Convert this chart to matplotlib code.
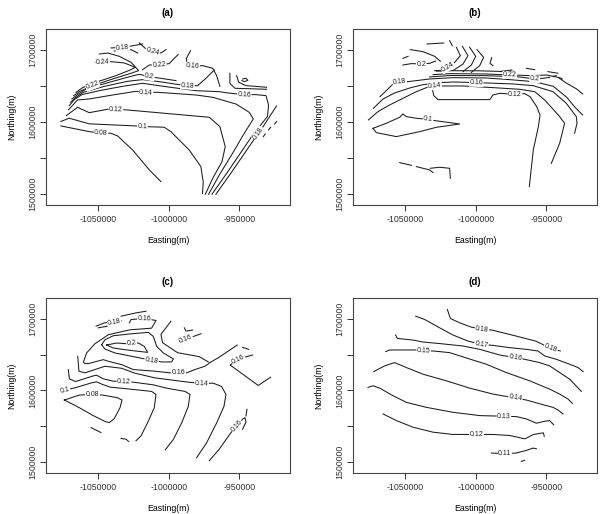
import numpy as np
import matplotlib
matplotlib.use("Agg")
from matplotlib import pyplot as plt

plt.rcParams['font.family'] = ['Liberation Sans', 'DejaVu Sans']

# contour pieces: easting / northing in km

# ---- panel (a)
a08_e = [-1076.4, -1056.3, -1048.0, -1040.9, -1036.2, -1025.6, -1013.7, -1005.5]
a08_n = [1594.6, 1586.7, 1584.4, 1584.4, 1580.7, 1561.3, 1533.6, 1517.4]
a10_e = [-1076.5, -1070.6, -1064.7, -1056.4, -1024.5, -1018.6, -1003.2, -998.5, -985.5, -977.2, -975.5, -976.0]
a10_n = [1600.7, 1605.3, 1602.1, 1597.5, 1594.7, 1593.8, 1592.8, 1586.8, 1561.4, 1538.3, 1517.0, 1501.0]
a12_e = [-1072.5, -1064.6, -1056.3, -1043.3, -1037.4, -1029.1, -971.2, -963.7, -959.9, -962.2, -968.8, -974.0]
a12_n = [1609.0, 1620.4, 1613.0, 1617.7, 1617.7, 1616.7, 1606.6, 1593.6, 1565.9, 1545.1, 1522.0, 1499.9]
a14_e = [-1071.0, -1064.6, -1056.3, -1039.7, -1023.2, -1016.1, -1007.8, -980.7, -968.8, -952.3, -942.9,
         -940.0, -946.4, -954.7, -964.1, -971.7]
a14_n = [1617.0, 1630.6, 1632.0, 1637.5, 1642.6, 1641.2, 1641.2, 1637.5, 1634.3, 1625.0, 1613.5,
         1604.3, 1584.4, 1556.7, 1526.6, 1499.9]
a16_e = [-1070.5, -1066.9, -1061.5, -1049.2, -1032.7, -1018.5, -1001.9, -980.7, -964.1, -958.2, -946.4,
         -938.1, -931.0, -929.2, -929.9, -941.2, -949.2, -959.2, -969.3]
a16_n = [1622.7, 1631.1, 1638.0, 1643.5, 1649.5, 1653.7, 1649.0, 1643.5, 1642.1, 1640.3, 1638.0,
         1638.0, 1636.6, 1623.7, 1608.0, 1579.8, 1556.7, 1528.0, 1499.9]
a16t_e = [-984.5, -987.5, -987.0, -983.0, -975.9, -968.8, -966.0, -963.7]
a16t_n = [1699.0, 1688.0, 1680.0, 1677.3, 1678.2, 1674.5, 1664.3, 1649.5]
a18_e = [-1069.5, -1065.7, -1060.5, -1045.6, -1029.1, -1018.5, -1006.7, -996.0, -986.6, -979.5, -973.6, -967.7]
a18_n = [1627.4, 1634.3, 1641.2, 1649.5, 1656.5, 1658.8, 1656.0, 1652.8, 1650.5, 1650.5, 1660.6, 1672.2]
a20_e = [-1068.6, -1064.3, -1058.6, -1042.1, -1026.7, -1020.8, -1013.7, -1005.5, -994.8]
a20_n = [1632.0, 1638.4, 1645.8, 1655.1, 1663.4, 1666.2, 1662.9, 1660.6, 1657.4]
a22_e = [-1067.4, -1062.9, -1053.9, -1039.7, -1026.7, -1021.3, -1026.7, -1035.0, -1043.3, -1049.2]
a22_n = [1636.6, 1642.6, 1650.5, 1659.7, 1667.6, 1671.3, 1682.8, 1691.1, 1695.7, 1694.3]
a22b_e = [-1018.5, -1013.7, -1006.7, -999.6, -996.5, -993.3]
a22b_n = [1672.6, 1679.1, 1679.1, 1681.0, 1687.5, 1693.5]
a24_e = [-1065.7, -1061.0, -1051.6, -1037.4, -1026.7, -1023.7, -1031.5, -1040.9, -1046.8, -1052.0]
a24_n = [1641.2, 1647.7, 1655.1, 1664.3, 1672.6, 1675.9, 1681.9, 1683.7, 1682.8, 1682.8]
a18t_e = [-1040.9, -1032.7, -1025.1, -1018.5]
a18t_n = [1702.7, 1703.6, 1705.9, 1708.2]
a18u_e = [-1038.6, -1026.7, -1022.0]
a18u_n = [1698.5, 1700.4, 1695.7]
a24t_e = [-1020.8, -1016.6, -1011.4, -1005.5, -1001.9]
a24t_n = [1709.6, 1702.2, 1697.6, 1695.7, 1700.4]
a16s1_e = [-956.6, -956.6, -953.0, -930.6]
a16s1_n = [1667.6, 1653.7, 1646.8, 1645.4]
a16s2_e = [-951.8, -950.4, -945.2, -930.6]
a16s2_n = [1664.3, 1655.1, 1650.5, 1648.2]
a_swirl_e = [-947.6, -945.2, -943.8, -946.2, -948.1]
a_swirl_n = [1659.7, 1660.6, 1657.9, 1656.0, 1657.4]
a18r_e = [-923.5, -933.4, -936.5, -946.2, -956.3, -966.5]
a18r_n = [1622.3, 1592.7, 1584.4, 1556.7, 1528.0, 1499.9]
a18d1_e = [-932.9, -931.5]
a18d1_n = [1579.8, 1583.5]
a18d2_e = [-929.2, -927.7]
a18d2_n = [1589.0, 1592.7]
a18d3_e = [-924.9, -923.5]
a18d3_n = [1597.3, 1600.6]

# ---- panel (b)
b10_e = [-1072.8, -1070.5, -1056.3, -1039.7, -1027.9, -1011.4, -1018.5, -1029.1, -1033.8, -1042.1,
         -1049.2, -1051.6, -1053.9, -1063.4, -1072.8]
b10_n = [1591.3, 1585.3, 1579.8, 1586.7, 1592.7, 1597.3, 1599.2, 1602.0, 1603.8, 1605.2,
         1607.5, 1611.2, 1606.6, 1598.3, 1591.3]
b_p1_e = [-1053.9, -1045.6]
b_p1_n = [1543.7, 1540.0]
b_p2_e = [-1042.1, -1032.7, -1030.3]
b_p2_n = [1538.2, 1533.6, 1529.9]
b_p3_e = [-1032.2, -1025.6, -1018.5, -1018.0]
b_p3_n = [1535.9, 1537.3, 1535.9, 1522.0]
b12_e = [-1030.8, -1029.8, -1026.7, -990.1, -987.8, -983.0, -972.2, -965.3, -961.5, -956.8, -954.4,
         -955.6, -959.2, -962.0]
b12_n = [1646.8, 1636.6, 1631.1, 1631.1, 1637.5, 1639.8, 1638.4, 1639.4, 1635.2, 1621.4, 1609.8,
         1593.6, 1561.3, 1510.5]
b14_e = [-1076.1, -1069.3, -1061.0, -1051.6, -1042.1, -1035.0, -1029.1, -1023.2, -1009.0, -987.8,
         -968.8, -958.2, -951.1, -940.5, -937.0, -940.5, -946.4]
b14_n = [1602.9, 1614.4, 1623.7, 1632.9, 1642.1, 1647.7, 1650.0, 1650.0, 1650.0, 1647.7,
         1645.4, 1642.1, 1630.6, 1607.5, 1598.3, 1570.5, 1542.8]
b16_e = [-1072.6, -1065.7, -1057.5, -1046.8, -1037.4, -1025.6, -1016.1, -1006.7, -999.6, -992.5,
         -973.6, -959.4, -945.2, -935.8, -928.7, -928.2, -929.9]
b16_n = [1619.0, 1632.0, 1640.3, 1647.2, 1651.8, 1654.6, 1655.5, 1655.1, 1654.2, 1654.2,
         1652.8, 1650.5, 1642.1, 1626.0, 1607.5, 1598.3, 1584.4]
b18_e = [-1067.9, -1063.4, -1059.8, -1057.5, -1053.9, -1048.0, -1032.7, -1016.1, -992.5, -975.9,
         -964.1, -954.7, -945.0, -935.5, -929.6, -924.2]
b18_n = [1635.2, 1643.5, 1650.5, 1654.2, 1655.1, 1656.0, 1659.7, 1661.5, 1661.1, 1658.8,
         1656.9, 1654.2, 1649.5, 1634.3, 1620.4, 1609.8]
b20_e = [-1032.7, -1018.5, -992.5, -968.8, -958.2, -952.3, -947.6]
b20_n = [1662.5, 1664.5, 1664.3, 1662.5, 1659.7, 1660.6, 1662.0]
b22_e = [-1030.3, -1018.5, -992.5, -975.9, -967.7, -959.4, -950.0, -941.7, -935.5, -928.4, -924.2]
b22_n = [1665.7, 1667.1, 1666.6, 1665.2, 1664.8, 1664.3, 1665.2, 1662.0, 1653.7, 1645.8, 1638.9]
b24s_e = [-1027.9, -1016.1, -997.2, -983.0, -973.6]
b24s_n = [1670.5, 1671.2, 1671.0, 1670.2, 1670.5]
b24_e = [-1029.1, -1024.4, -1019.7, -1014.9, -1010.9, -1013.7]
b24_n = [1671.3, 1671.7, 1675.9, 1682.8, 1692.0, 1703.6]
b_c2_e = [-1016.1, -1009.0, -1005.5, -1009.5]
b_c2_n = [1671.3, 1680.5, 1692.0, 1705.0]
b_c3_e = [-1009.0, -1003.1, -1000.0, -1004.3]
b_c3_n = [1669.9, 1679.1, 1691.1, 1703.6]
b_c4_e = [-1003.1, -997.2, -994.4, -999.1]
b_c4_n = [1668.9, 1678.2, 1689.7, 1700.4]
b_c5_e = [-988.7, -989.9, -987.8]
b_c5_n = [1689.3, 1681.4, 1678.2]
b_c6_e = [-982.8, -974.5]
b_c6_n = [1669.9, 1672.2]
b_e1_e = [-964.1, -958.2]
b_e1_n = [1674.5, 1672.6]
b_e2_e = [-948.8, -941.7]
b_e2_n = [1669.9, 1667.6]
b_l1_e = [-1051.6, -1048.0]
b_l1_n = [1688.3, 1691.1]
b20a_e = [-1051.6, -1045.6, -1038.6, -1032.7, -1028.4]
b20a_n = [1679.1, 1681.0, 1680.5, 1681.4, 1684.6]
b_l3_e = [-1046.4, -1037.4, -1029.1, -1025.1]
b_l3_n = [1700.4, 1697.6, 1691.1, 1684.2]
b_l4_e = [-1034.5, -1022.7]
b_l4_n = [1708.2, 1709.6]
b_l5_e = [-1018.5, -1016.6]
b_l5_n = [1712.8, 1705.9]
b_d1_e = [-945.2, -942.9]
b_d1_n = [1663.4, 1664.3]
b_d2_e = [-940.5, -938.6]
b_d2_n = [1661.5, 1659.7]

# ---- panel (c)
c08_e = [-1074.0, -1063.4, -1053.9, -1046.8, -1036.2, -1033.1, -1034.5, -1038.6, -1042.1, -1044.9,
         -1053.9, -1064.6, -1074.0]
c08_n = [1586.7, 1593.6, 1594.5, 1593.6, 1589.9, 1586.7, 1576.0, 1560.8, 1555.2, 1556.6,
         1565.4, 1577.4, 1586.7]
c10_e = [-1075.9, -1073.5, -1066.4, -1054.6, -1051.1, -1047.5, -1041.6, -1025.1, -1012.1, -1009.0,
         -1010.2, -1014.9, -1019.6, -1023.2]
c10_n = [1599.2, 1600.5, 1603.8, 1610.7, 1612.1, 1608.9, 1604.7, 1601.5, 1598.7, 1594.5,
         1576.1, 1555.3, 1536.8, 1529.9]
c12_e = [-1071.2, -1070.4, -1066.0, -1053.4, -1051.1, -1046.3, -1039.3, -1031.7, -1025.1, -1010.9,
         -1001.5, -988.4, -984.9, -986.1, -990.8, -996.7, -1002.4]
c12_n = [1629.2, 1616.2, 1612.5, 1620.4, 1621.3, 1616.2, 1613.0, 1612.5, 1611.6, 1607.9,
         1603.3, 1598.7, 1594.5, 1577.9, 1554.8, 1531.7, 1517.4]
c14_e = [-1064.5, -1063.6, -1059.3, -1052.3, -1045.2, -1033.4, -1023.9, -1009.7, -986.1, -976.6,
         -968.4, -962.5, -959.4, -960.8, -966.0, -973.1, -980.2]
c14_n = [1647.7, 1626.9, 1624.6, 1629.2, 1633.8, 1631.0, 1624.1, 1617.6, 1611.6, 1609.8,
         1610.2, 1605.6, 1594.5, 1577.9, 1554.8, 1527.1, 1506.3]
c16_e = [-1027.9, -1026.7, -1017.3, -1009.0, -1012.1, -1027.4, -1042.8, -1052.3, -1058.2, -1060.5,
         -1059.3, -1057.0, -1046.3, -1042.8, -1033.4, -1025.1, -1009.7, -999.1, -993.2, -987.3,
         -981.4, -974.3, -970.7, -963.6, -951.4]
c16_n = [1694.3, 1698.9, 1700.5, 1697.6, 1686.9, 1684.6, 1677.7, 1665.2, 1652.3, 1639.3,
         1637.5, 1637.5, 1643.0, 1640.7, 1636.1, 1629.2, 1626.9, 1624.6, 1625.5, 1624.6,
         1629.2, 1633.8, 1638.9, 1647.2, 1663.4]
c16b_e = [-998.4, -1005.5, -1004.3, -993.7, -978.3, -971.9]
c16b_n = [1696.6, 1678.2, 1666.6, 1652.7, 1647.2, 1639.8]
c16c_e = [-992.0, -987.7, -981.8, -977.1]
c16c_n = [1668.0, 1671.2, 1675.8, 1679.1]
c16d_e = [-988.9, -987.7, -983.0]
c16d_n = [1687.4, 1682.8, 1684.2]
c16e_e = [-927.7, -936.5, -956.5, -950.6, -944.7, -940.5]
c16e_n = [1618.6, 1607.0, 1635.6, 1643.0, 1647.2, 1649.5]
c16f_e = [-947.6, -943.3]
c16f_n = [1660.1, 1657.4]
c16g_e = [-971.2, -964.1, -955.8, -951.8, -947.6, -945.9, -945.2, -947.6]
c16g_n = [1502.1, 1518.3, 1541.4, 1550.6, 1559.9, 1562.2, 1556.2, 1546.0]
c16h_e = [-944.5, -945.2]
c16h_n = [1573.7, 1564.5]
c18_e = [-1047.5, -1045.2, -1039.3, -1026.3, -1014.4, -1010.9, -1008.5, -1003.8, -996.7, -997.9,
         -1005.0, -1012.1, -1018.0, -1028.6, -1038.1, -1045.2, -1047.5]
c18_n = [1663.8, 1670.8, 1676.3, 1679.1, 1681.0, 1675.4, 1661.5, 1652.3, 1644.0, 1639.8,
         1639.8, 1642.1, 1644.4, 1648.6, 1652.3, 1657.8, 1663.8]
c20_e = [-1044.0, -1036.9, -1029.8, -1026.3, -1021.5, -1017.3, -1014.9, -1021.5, -1031.0, -1039.2, -1044.0]
c20_n = [1663.4, 1666.2, 1665.2, 1665.8, 1666.2, 1661.5, 1653.2, 1654.6, 1656.9, 1659.2, 1663.4]
c18t_e = [-1051.5, -1045.6, -1038.6, -1036.2, -1033.4]
c18t_n = [1689.7, 1694.3, 1695.7, 1697.6, 1697.1]
c18u_e = [-1049.9, -1039.3]
c18u_n = [1687.4, 1691.1]
c_t1_e = [-1033.8, -1023.2, -1016.1]
c_t1_n = [1703.6, 1708.2, 1710.5]
c_p1_e = [-1055.1, -1048.0]
c_p1_n = [1548.3, 1541.4]
c_p2_e = [-1033.8, -1030.3, -1028.4]
c_p2_n = [1533.1, 1532.2, 1528.9]

# ---- panel (d)
d18_e = [-1020.1, -1018.0, -1011.4, -1003.1, -995.6, -988.5, -976.0, -964.1, -957.5, -946.9, -940.0]
d18_n = [1712.8, 1700.4, 1694.4, 1688.3, 1685.6, 1684.2, 1678.2, 1672.2, 1668.9, 1658.8, 1655.1]
d17_e = [-1042.6, -1036.2, -1025.6, -1016.1, -1005.5, -996.0, -987.8, -976.0, -964.1, -955.9, -951.1,
         -942.9, -933.4, -927.5, -923.9]
d17_n = [1703.6, 1699.0, 1687.4, 1677.3, 1668.9, 1664.3, 1662.9, 1659.7, 1657.4, 1655.1, 1648.2,
         1643.5, 1636.6, 1632.0, 1626.4]
d16_e = [-1056.8, -1055.6, -1044.5, -1037.4, -1024.4, -1009.0, -997.2, -983.0, -971.9, -965.3, -954.7,
         -947.6, -940.5, -933.4, -925.1]
d16_n = [1677.3, 1672.6, 1670.3, 1667.6, 1665.2, 1662.0, 1657.4, 1649.5, 1645.8, 1643.5, 1638.9,
         1634.3, 1625.0, 1615.8, 1598.7]
d15_e = [-1063.8, -1061.0, -1043.3, -1036.9, -1030.3, -1018.5, -1009.0, -992.5, -978.3, -961.8, -947.6,
         -940.5, -934.6, -931.5]
d15_n = [1654.2, 1656.5, 1656.5, 1655.1, 1655.1, 1652.8, 1646.8, 1636.6, 1625.0, 1613.5, 1601.9,
         1595.0, 1588.1, 1582.1]
d14_e = [-1072.3, -1064.6, -1057.5, -1049.2, -1037.4, -1020.8, -1004.3, -987.8, -971.9, -964.1, -952.3,
         -945.2, -941.7, -938.1]
d14_n = [1626.4, 1634.3, 1638.9, 1632.0, 1622.7, 1613.5, 1603.3, 1595.0, 1589.5, 1586.7, 1580.2,
         1576.5, 1572.8, 1567.3]
d13_e = [-1076.4, -1072.8, -1068.1, -1058.6, -1049.2, -1035.0, -1016.1, -997.2, -980.0, -971.2, -964.1,
         -957.0, -951.1, -947.6, -944.7]
d13_n = [1604.3, 1606.6, 1603.3, 1592.7, 1583.5, 1576.5, 1569.6, 1565.0, 1564.1, 1563.6, 1560.4,
         1554.4, 1557.1, 1558.1, 1552.1]
d12_e = [-1065.7, -1056.3, -1044.5, -1030.3, -1016.1, -999.6, -987.8, -976.0, -965.1, -959.2, -952.1, -951.4]
d12_n = [1567.3, 1558.1, 1548.8, 1541.9, 1538.7, 1538.7, 1538.7, 1537.3, 1532.6, 1538.6, 1541.0, 1536.3]
d11_e = [-988.9, -979.5, -971.2, -964.1, -959.4, -957.0]
d11_n = [1512.8, 1511.9, 1512.8, 1516.5, 1519.7, 1518.8]
d11b_e = [-967.7, -965.3]
d11b_n = [1501.2, 1502.6]

# (label text, easting, northing, vertices carrying the label)
panel_a = [
    ("0.08", a08_e, a08_n, [2]), ("0.1", a10_e, a10_n, [5]), ("0.12", a12_e, a12_n, [4]),
    ("0.14", a14_e, a14_n, [5]), ("0.16", a16_e, a16_n, [10]), ("0.16", a16t_e, a16t_n, [3]),
    ("0.18", a18_e, a18_n, [8]), ("0.2", a20_e, a20_n, [6]), ("0.22", a22_e, a22_n, [2]),
    ("0.22", a22b_e, a22b_n, [2]), ("0.24", a24_e, a24_n, [8]), ("0.18", a18t_e, a18t_n, [1]),
    ("", a18u_e, a18u_n, []), ("0.24", a24t_e, a24t_n, [2]), ("", a16s1_e, a16s1_n, []),
    ("", a16s2_e, a16s2_n, []), ("", a_swirl_e, a_swirl_n, []), ("0.18", a18r_e, a18r_n, [2]),
    ("", a18d1_e, a18d1_n, []), ("", a18d2_e, a18d2_n, []), ("", a18d3_e, a18d3_n, []),
]
panel_b = [
    ("0.1", b10_e, b10_n, [8]), ("", b_p1_e, b_p1_n, []), ("", b_p2_e, b_p2_n, []),
    ("", b_p3_e, b_p3_n, []), ("0.12", b12_e, b12_n, [6]), ("0.14", b14_e, b14_n, [6]),
    ("0.16", b16_e, b16_n, [8]), ("0.18", b18_e, b18_n, [4]), ("0.2", b20_e, b20_n, [4]),
    ("0.22", b22_e, b22_n, [3]), ("", b24s_e, b24s_n, []), ("0.24", b24_e, b24_n, [2]),
    ("", b_c2_e, b_c2_n, []), ("", b_c3_e, b_c3_n, []), ("", b_c4_e, b_c4_n, []),
    ("", b_c5_e, b_c5_n, []), ("", b_c6_e, b_c6_n, []), ("", b_e1_e, b_e1_n, []),
    ("", b_e2_e, b_e2_n, []), ("", b_l1_e, b_l1_n, []), ("0.2", b20a_e, b20a_n, [2]),
    ("", b_l3_e, b_l3_n, []), ("", b_l4_e, b_l4_n, []), ("", b_l5_e, b_l5_n, []),
    ("", b_d1_e, b_d1_n, []), ("", b_d2_e, b_d2_n, []),
]
panel_c = [
    ("0.08", c08_e, c08_n, [2]), ("0.1", c10_e, c10_n, [1]), ("0.12", c12_e, c12_n, [7]),
    ("0.14", c14_e, c14_n, [9]), ("0.16", c16_e, c16_n, [2, 18]), ("", c16b_e, c16b_n, []),
    ("0.16", c16c_e, c16c_n, [1]), ("", c16d_e, c16d_n, []), ("0.16", c16e_e, c16e_n, [3]),
    ("", c16f_e, c16f_n, []), ("0.16", c16g_e, c16g_n, [3]), ("", c16h_e, c16h_n, []),
    ("0.18", c18_e, c18_n, [11]), ("0.2", c20_e, c20_n, [3]), ("0.18", c18t_e, c18t_n, [2]),
    ("", c18u_e, c18u_n, []), ("", c_t1_e, c_t1_n, []), ("", c_p1_e, c_p1_n, []),
    ("", c_p2_e, c_p2_n, []),
]
panel_d = [
    ("0.18", d18_e, d18_n, [4, 9]), ("0.17", d17_e, d17_n, [5]), ("0.16", d16_e, d16_n, [8]),
    ("0.15", d15_e, d15_n, [3]), ("0.14", d14_e, d14_n, [8]), ("0.13", d13_e, d13_n, [8]),
    ("0.12", d12_e, d12_n, [5]), ("0.11", d11_e, d11_n, [1]), ("", d11b_e, d11b_n, []),
]

xticks = [-1050000, -1000000, -950000]
yticks = [1500000, 1550000, 1600000, 1650000, 1700000]
ylabels = ['1500000', '', '1600000', '', '1700000']

fig = plt.figure(figsize=(6.01, 5.14), dpi=100)

boxes = {'(a)': [0.0765, 0.6012, 0.406, 0.3424], '(b)': [0.5874, 0.6012, 0.406, 0.3424],
         '(c)': [0.0765, 0.0798, 0.406, 0.3405], '(d)': [0.5874, 0.0798, 0.406, 0.3405]}
panels = {'(a)': panel_a, '(b)': panel_b, '(c)': panel_c, '(d)': panel_d}

for title, pieces in panels.items():
    ax = fig.add_axes(boxes[title])
    ax.set_xlim(-1087000, -914000)
    ax.set_ylim(1485000, 1729000)
    for text, e, n, labs in pieces:
        x = np.array(e) * 1000
        y = np.array(n) * 1000
        ax.plot(x, y, color='#1c1c1c', lw=0.75, solid_joinstyle='round')
        for i in labs:
            i0 = max(i - 1, 0)
            i1 = min(i + 1, len(x) - 1)
            p0 = ax.transData.transform((x[i0], y[i0]))
            p1 = ax.transData.transform((x[i1], y[i1]))
            ang = np.degrees(np.arctan2(p1[1] - p0[1], p1[0] - p0[0]))
            if ang > 90:
                ang -= 180
            if ang < -90:
                ang += 180
            ax.text(x[i], y[i], text, rotation=ang, rotation_mode='anchor', ha='center',
                    va='center', fontsize=5, color='#1c1c1c',
                    bbox=dict(fc='white', ec='none', pad=0.3))

    ax.set_xticks(xticks)
    ax.set_xticklabels([str(v) for v in xticks])
    ax.set_yticks(yticks)
    ax.set_yticklabels(ylabels, rotation=90, va='center')
    ax.tick_params(length=4, width=0.7, labelsize=6.3, colors='#333333', pad=3.2)
    ax.tick_params(axis='y', pad=2)
    for s in ax.spines.values():
        s.set_color('#444444')
        s.set_linewidth(0.8)
    ax.set_xlabel('Easting(m)', fontsize=6.3, labelpad=8.5)
    ax.set_ylabel('Northing(m)', fontsize=6.3, labelpad=9)
    ax.set_title(title, fontsize=7, fontweight='bold', pad=9.5)

fig.savefig('out.png', dpi=100)
